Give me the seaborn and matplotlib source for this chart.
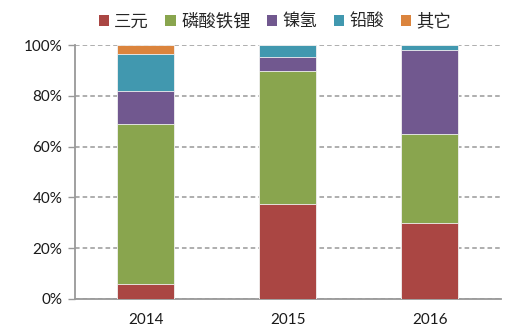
import numpy as np
import pandas as pd
import matplotlib
matplotlib.use("Agg")
import matplotlib.pyplot as plt
from matplotlib.patches import Patch
import seaborn as sns

years = ["2014", "2015", "2016"]
series_names = ["三元", "磷酸铁锂", "镍氢", "铅酸", "其它"]
ternary = [6.0, 37.5, 30.0]
lfp = [63.0, 52.2, 35.0]
nimh = [13.0, 5.6, 33.0]
lead_acid = [14.5, 4.7, 2.0]
other = [3.5, 0.0, 0.0]
colors = ["#AA4643", "#89A54E", "#71588F", "#4198AF", "#DB843D"]
y_ticks = [0, 20, 40, 60, 80, 100]
y_tick_labels = ["0%", "20%", "40%", "60%", "80%", "100%"]

sns.set_theme(style="white")
plt.rcParams["font.family"] = ["Lato", "Noto Sans CJK SC", "DejaVu Sans"]

df = pd.DataFrame({"year": years})
layers = [ternary, lfp, nimh, lead_acid, other]
cum = np.cumsum(np.array(layers), axis=0)
for name, c in zip(series_names, cum):
    df[name] = c

fig = plt.figure(figsize=(5.09, 3.31), dpi=100)
ax = fig.add_axes([0.147, 0.0973, 0.837, 0.766])

# stacked bars: draw cumulative totals from the top segment down
for name, color in reversed(list(zip(series_names, colors))):
    sns.barplot(data=df, x="year", y=name, color=color, width=0.4,
                edgecolor="#F2F2F2", linewidth=0.6, saturation=1, ax=ax, zorder=3)

ax.set_xlim(-0.5, 2.5)
ax.set_ylim(0, 100)
ax.set_yticks(y_ticks)
ax.set_yticklabels(y_tick_labels, fontsize=11, color="#1a1a1a")
ax.set_xlabel("")
ax.set_ylabel("")
ax.tick_params(axis="x", which="major", length=0, labelsize=11, labelcolor="#1a1a1a", pad=10)
ax.set_xticks([0.5, 1.5, 2.5], minor=True)
ax.tick_params(axis="x", which="minor", length=5, width=1, color="#999999", direction="out")
ax.tick_params(axis="y", length=5, width=1, color="#999999", direction="out", left=True, pad=4)

ax.yaxis.grid(True, linestyle=(0, (3, 2)), color="#999999", linewidth=1.1, zorder=0)
ax.set_axisbelow(True)
for side in ["top", "right"]:
    ax.spines[side].set_visible(False)
for side in ["left", "bottom"]:
    ax.spines[side].set_color("#999999")
    ax.spines[side].set_linewidth(1.3)

handles = [Patch(facecolor=c, edgecolor="none") for c in colors]
fig.legend(handles, series_names, loc="upper center", bbox_to_anchor=(0.54, 1.01),
           ncol=5, frameon=False, handlelength=0.6, handleheight=0.6,
           handletextpad=0.3, columnspacing=0.95,
           prop={"family": ["Noto Sans CJK SC", "DejaVu Sans"], "size": 12.5})

fig.savefig("out.png", dpi=100)
